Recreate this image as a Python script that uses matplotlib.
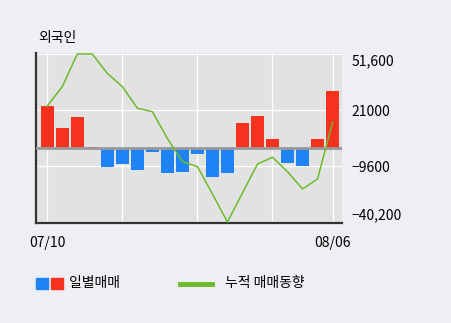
import matplotlib.pyplot as plt
from matplotlib.patches import Rectangle
from matplotlib.lines import Line2D

plt.rcParams['font.family'] = ['Noto Sans CJK KR', 'DejaVu Sans']

# daily net trades (foreigners) and cumulative trend, 07/10 - 08/06
daily = [23200, 11400, 17400, 1000, -9900, -8300, -11700, -2100, -13600, -12700,
         -3200, -15700, -13600, 14100, 17900, 5200, -8100, -9400, 5200, 31400]
cumulative = [23200, 33800, 51600, 51600, 41000, 33800, 22000, 20100, 5500, -7200,
              -9900, -24800, -40200, -24300, -8500, -4800, -12700, -22100, -16700, 14300]
x_ticks = [0, 5, 10, 15, 19]
x_labels = ["07/10", "", "", "", "08/06"]
y_ticks = [51600, 21000, -9600, -40200]
y_labels = ["51,600", "21000", "\u22129600", "\u221240,200"]

RED = "#f5321e"
BLUE = "#1f82f5"
GREEN = "#6cbb2c"

fig = plt.figure(figsize=(4.51, 3.23), dpi=100, facecolor="#eeeff3")
ax = fig.add_axes([36 / 451, 100 / 323, 306 / 451, 170 / 323])
ax.set_facecolor("#e2e2e2")

xs = list(range(len(daily)))
colors = [RED if v >= 0 else BLUE for v in daily]
ax.bar(xs, daily, width=0.86, color=colors, zorder=2)
ax.axhline(0, color="#999999", lw=2, zorder=3)
ax.plot(xs, cumulative, color=GREEN, lw=1.1, zorder=4)

ax.set_xlim(-0.75, 19.63)
ax.set_ylim(-40700, 52150)
ax.set_xticks(x_ticks)
ax.set_xticklabels(x_labels, fontsize=10)
ax.set_yticks(y_ticks)
ax.set_yticklabels(y_labels, fontsize=10)
ax.yaxis.tick_right()
ax.tick_params(axis="both", length=0)
ax.tick_params(axis="y", pad=7)
ax.tick_params(axis="x", pad=9)
ylabs = ax.get_yticklabels()
ylabs[0].set_verticalalignment("top")
ylabs[-1].set_verticalalignment("bottom")

ax.grid(True, color="white", lw=0.9, zorder=0)
ax.set_axisbelow(True)
for s in ["top", "right"]:
    ax.spines[s].set_visible(False)
for s in ["left", "bottom"]:
    ax.spines[s].set_color("#333333")
    ax.spines[s].set_linewidth(1.6)

fig.text(38 / 451, 1 - 38 / 323, "외국인", fontsize=10, va="center", ha="left")

# legend drawn by hand at the bottom
fig.add_artist(Rectangle((36 / 451, 1 - 289 / 323), 12 / 451, 11 / 323,
                         transform=fig.transFigure, color=BLUE))
fig.add_artist(Rectangle((51 / 451, 1 - 289 / 323), 12 / 451, 11 / 323,
                         transform=fig.transFigure, color=RED))
fig.text(69 / 451, 1 - 283.5 / 323, "일별매매", fontsize=10, va="center", ha="left")
fig.add_artist(Line2D([180 / 451, 212 / 451], [1 - 283.5 / 323, 1 - 283.5 / 323],
                      transform=fig.transFigure, color=GREEN, lw=3.5))
fig.text(225 / 451, 1 - 283.5 / 323, "누적 매매동향", fontsize=10, va="center", ha="left")

fig.savefig("out.png", dpi=100, facecolor=fig.get_facecolor())
